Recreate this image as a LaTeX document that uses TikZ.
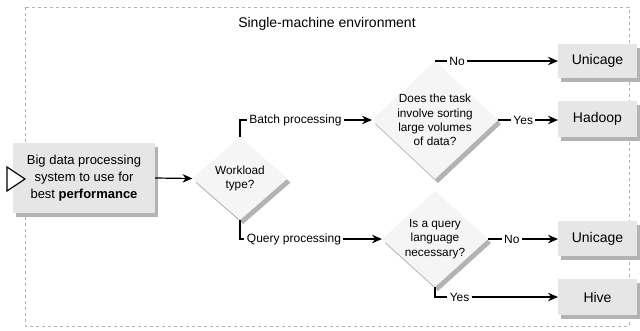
\documentclass[tikz,border=0pt]{standalone}
\usepackage{fontspec}
\setmainfont{Liberation Sans}
\usetikzlibrary{shapes.geometric,shadows,arrows.meta}
\definecolor{boxgray}{HTML}{E6E6E6}
\definecolor{diagray}{HTML}{F5F5F5}
\definecolor{shadowgray}{HTML}{B3B3B3}
\definecolor{framegray}{HTML}{B3B3B3}
\begin{document}
\begin{tikzpicture}[x=1pt,y=-1pt,
  boxshadow/.style={general shadow={shadow xshift=3pt,shadow yshift=-4pt,fill=shadowgray}},
  resultbox/.style={rectangle,fill=boxgray,minimum width=79pt,minimum height=35pt,inner sep=0pt,outer sep=0pt,
    font=\fontsize{14}{16}\selectfont,boxshadow},
  startbox/.style={rectangle,fill=boxgray,minimum width=142pt,minimum height=70pt,inner sep=0pt,outer sep=0pt,
    align=center,font=\fontsize{13}{17}\selectfont,boxshadow},
  decision/.style={diamond,fill=diagray,inner sep=0pt,outer sep=0pt,boxshadow},
  dtext/.style={align=center,inner sep=0pt,font=\fontsize{11.8}{14.3}\selectfont},
  elabel/.style={fill=white,inner sep=2.5pt,font=\fontsize{12}{14}\selectfont},
  conn/.style={line width=1.2pt,-{Stealth[length=10pt,width=8.5pt]}},
  plain/.style={line width=1.2pt}]
\useasboundingbox (0,0) rectangle (640,330);
% environment frame
\draw[framegray,line width=1pt,dash pattern=on 3pt off 3pt] (25,7) rectangle (629,326);
\node[font=\fontsize{14}{16}\selectfont] (title) at (327,24) {Single-machine environment};
% start
\node[startbox] (start) at (84,178) {Big data processing\\system to use for\\best \textbf{performance}};
\draw[line width=1.2pt,fill=white] (7,167) -- (25,179) -- (7,191) -- cycle;
% decisions
\node[decision,minimum width=95pt,minimum height=83pt] (d1) at (240,178.5) {};
\node[dtext] (d1t) at (d1.center) {Workload\\type?};
\node[decision,minimum width=126pt,minimum height=118pt] (d2) at (435,120) {};
\node[dtext] (d2t) at (d2.center) {Does the task\\involve sorting\\large volumes\\of data?};
\node[decision,minimum width=106pt,minimum height=96pt] (d3) at (435,239) {};
\node[dtext] (d3t) at (d3.center) {Is a query\\language\\necessary?};
% results
\node[resultbox,minimum height=34pt] (u1) at (597.5,61) {Unicage};
\node[resultbox,minimum height=36pt] (hd) at (597.5,119) {Hadoop};
\node[resultbox] (u2) at (597.5,238.5) {Unicage};
\node[resultbox,minimum height=36pt] (hv) at (597.5,297) {Hive};
% connectors
\draw[conn] (start.east) -- (d1.west);
\draw[conn] (d1.north) |- node[elabel,pos=0.71] {Batch processing} (d2.west);
\draw[conn] (d1.south) |- node[elabel,pos=0.69] {Query processing} (d3.west);
\draw[conn] (d2.north) -- node[elabel,pos=0.18] {No} (d2.north -| u1.west);
\draw[conn] (d2.east) -- node[elabel,pos=0.42] {Yes} (d2.east -| hd.west);
\draw[conn] (d3.east) -- node[elabel,pos=0.34] {No} (d3.east -| u2.west);
\draw[conn] (d3.south) |- node[elabel,pos=0.6] {Yes} (hv.west);
\end{tikzpicture}
\end{document}
